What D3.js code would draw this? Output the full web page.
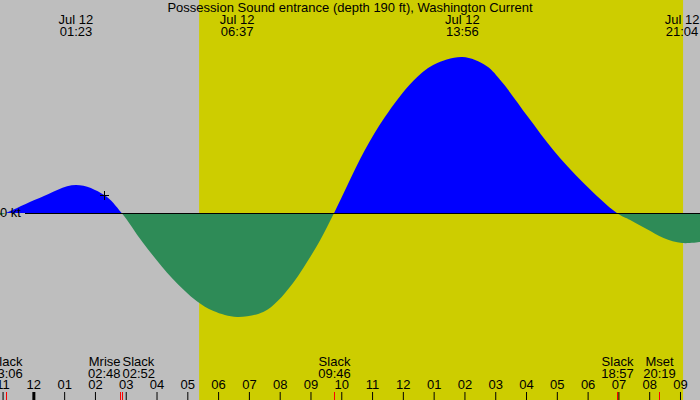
<!DOCTYPE html>
<html>
<head>
<meta charset="utf-8">
<script src="https://cdn.jsdelivr.net/npm/d3@7"></script>
<style>
  body { margin: 0; background: #fff; }
  svg { display: block; }
  text { font-family: "Liberation Sans", Arial, sans-serif; font-size: 13px; fill: #000; }
</style>
</head>
<body>
<script>
// current speed (kt, + is flood)
var curveTimes = ["2024-07-11 22:50", "2024-07-11 23:06", "2024-07-12 00:12", "2024-07-12 01:23",
    "2024-07-12 02:18", "2024-07-12 02:52", "2024-07-12 03:34", "2024-07-12 04:30", "2024-07-12 05:18",
    "2024-07-12 05:51", "2024-07-12 06:37", "2024-07-12 07:28", "2024-07-12 07:56", "2024-07-12 08:26",
    "2024-07-12 08:46", "2024-07-12 09:19", "2024-07-12 09:46", "2024-07-12 10:14", "2024-07-12 10:46",
    "2024-07-12 11:25", "2024-07-12 12:20", "2024-07-12 12:59", "2024-07-12 13:56", "2024-07-12 14:43",
    "2024-07-12 15:13", "2024-07-12 16:04", "2024-07-12 16:53", "2024-07-12 17:52", "2024-07-12 18:57",
    "2024-07-12 19:23", "2024-07-12 19:55", "2024-07-12 20:28", "2024-07-12 21:04", "2024-07-12 21:40"];
var curveSpeeds = [-0.03, 0, 0.15, 0.28,
    0.18, 0, -0.30, -0.65, -0.88,
    -0.98, -1.04, -0.99, -0.88, -0.70,
    -0.55, -0.27, 0, 0.30, 0.63,
    0.96, 1.32, 1.48, 1.56, 1.47,
    1.31, 0.96, 0.63, 0.30, 0,
    -0.07, -0.16, -0.25, -0.30, -0.29];

// max flood / max ebb labels along the top
var maxTimes = ["2024-07-12 01:23", "2024-07-12 06:37", "2024-07-12 13:56", "2024-07-12 21:04"];

// slack and moon events along the bottom
var eventNames = ["Slack", "Mrise", "Slack", "Slack", "Slack", "Mset"];
var eventTimes = ["2024-07-11 23:06", "2024-07-12 02:48", "2024-07-12 02:52", "2024-07-12 09:46",
    "2024-07-12 18:57", "2024-07-12 20:19"];

var sunrise = "2024-07-12 05:23";
var sunset = "2024-07-12 21:06";
var nowTime = "2024-07-12 02:18";
var nowSpeed = 0.18;

var title = "Possession Sound entrance (depth 190 ft), Washington Current";

var width = 700, height = 400;
var parse = d3.timeParse("%Y-%m-%d %H:%M");
var fmtDay = d3.timeFormat("%b %d");
var fmtTime = d3.timeFormat("%H:%M");

var x = d3.scaleTime()
    .domain([parse("2024-07-11 22:55"), parse("2024-07-12 21:39")])
    .range([0, width]);
var y = d3.scaleLinear().domain([-1.87, 2.13]).range([height, 0]);

var data = curveTimes.map(function(t, i) {
    return { t: parse(t), v: curveSpeeds[i] };
});

var svg = d3.select("body").append("svg")
    .attr("width", width)
    .attr("height", height);

// night / day background
svg.append("rect").attr("width", width).attr("height", height).attr("fill", "#bebebe");
svg.append("rect")
    .attr("x", x(parse(sunrise)))
    .attr("width", x(parse(sunset)) - x(parse(sunrise)))
    .attr("height", height)
    .attr("fill", "#cdcd00");

var y0 = y(0);
var defs = svg.append("defs");
defs.append("clipPath").attr("id", "above")
    .append("rect").attr("width", width).attr("height", y0);
defs.append("clipPath").attr("id", "below")
    .append("rect").attr("y", y0).attr("width", width).attr("height", height - y0);

var area = d3.area()
    .curve(d3.curveCatmullRom.alpha(0.5))
    .x(function(d) { return x(d.t); })
    .y0(y0)
    .y1(function(d) { return y(d.v); });

svg.append("path").datum(data)
    .attr("d", area)
    .attr("fill", "#0000ff")
    .attr("clip-path", "url(#above)");
svg.append("path").datum(data)
    .attr("d", area)
    .attr("fill", "#2e8b57")
    .attr("clip-path", "url(#below)");

// zero line and label
svg.append("text").attr("x", 0).attr("y", y0 + 4).text("0 kt");
svg.append("line")
    .attr("x1", 25).attr("x2", width)
    .attr("y1", y0 + 0.5).attr("y2", y0 + 0.5)
    .attr("stroke", "#000");

// "now" marker
var nx = Math.round(x(parse(nowTime))) + 0.5, ny = Math.round(y(nowSpeed)) + 0.5;
svg.append("path")
    .attr("d", "M" + (nx - 4.5) + "," + ny + "H" + (nx + 4.5) + "M" + nx + "," + (ny - 4.5) + "V" + (ny + 4.5))
    .attr("stroke", "#000");

// title
svg.append("text").attr("x", width / 2).attr("y", 12)
    .attr("text-anchor", "middle").text(title);

// max labels
var tops = svg.selectAll("g.max").data(maxTimes.map(parse)).enter().append("g")
    .attr("class", "max")
    .attr("transform", function(d) { return "translate(" + x(d) + ",0)"; });
tops.append("text").attr("y", 24).attr("text-anchor", "middle").text(fmtDay);
tops.append("text").attr("y", 36).attr("text-anchor", "middle").text(fmtTime);

// hour axis
var axis = svg.append("g")
    .attr("transform", "translate(0," + height + ")")
    .call(d3.axisTop(x)
        .ticks(d3.timeHour.every(1))
        .tickSize(8)
        .tickPadding(3)
        .tickFormat(d3.timeFormat("%I")));
axis.select(".domain").remove();
axis.selectAll("text").attr("font-family", null).attr("font-size", null).attr("fill", null);
axis.selectAll(".tick line")
    .attr("stroke", "#000")
    .attr("stroke-width", function(d) { return d.getHours() === 0 ? 3 : 1; });

// events: red ticks and labels
var events = eventTimes.map(function(t, i) {
    return { t: parse(t), name: eventNames[i], anchor: "middle" };
});
for (var i = 1; i < events.length; i++) {
    if (x(events[i].t) - x(events[i - 1].t) < 30) {
        events[i - 1].anchor = "end";
        events[i].anchor = "start";
    }
}
var ev = svg.selectAll("g.event").data(events).enter().append("g")
    .attr("class", "event")
    .attr("transform", function(d) { return "translate(" + (Math.round(x(d.t)) + 0.5) + ",0)"; });
ev.append("line")
    .attr("y1", 392).attr("y2", height)
    .attr("stroke", "#ff0000");
ev.append("text").attr("y", 366)
    .attr("text-anchor", function(d) { return d.anchor; })
    .text(function(d) { return d.name; });
ev.append("text").attr("y", 378)
    .attr("text-anchor", function(d) { return d.anchor; })
    .text(function(d) { return fmtTime(d.t); });
</script>
</body>
</html>
